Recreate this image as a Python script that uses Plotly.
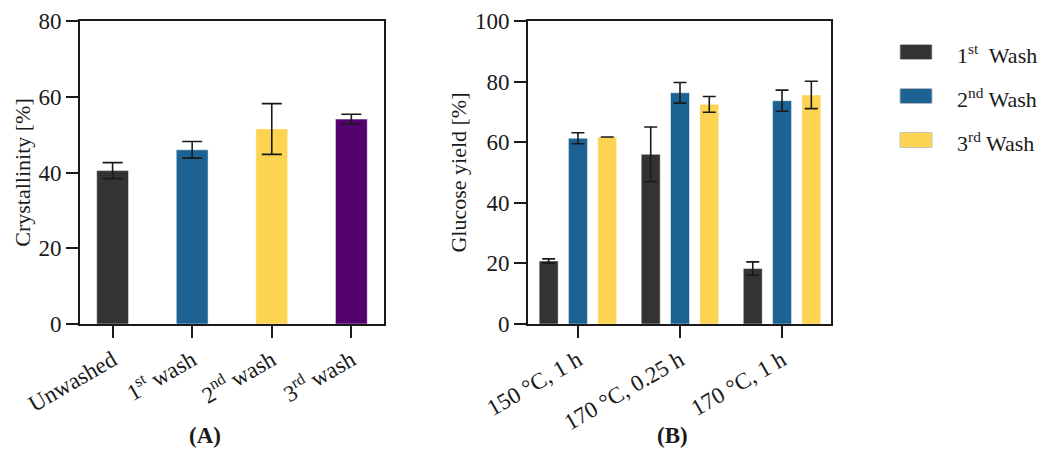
import plotly.graph_objects as go

# ---- Panel A data ----
a_categories = ["Unwashed", "1<sup>st</sup> wash", "2<sup>nd</sup> wash", "3<sup>rd</sup> wash"]
a_values = [40.5, 46.0, 51.5, 54.1]
a_errors = [2.1, 2.2, 6.7, 1.3]
a_colors = ["#333333", "#1c6393", "#fdd352", "#55006f"]

# ---- Panel B data ----
b_categories = ["150 °C, 1 h", "170 °C, 0.25 h", "170 °C, 1 h"]
b_series = ["1<sup>st</sup>  Wash", "2<sup>nd</sup> Wash", "3<sup>rd</sup> Wash"]
b_values = [
    [20.8, 56.0, 18.3],
    [61.3, 76.3, 73.7],
    [61.7, 72.5, 75.6],
]
b_errors = [
    [0.7, 9.0, 2.2],
    [1.8, 3.4, 3.5],
    [None, 2.6, 4.5],
]
b_colors = ["#333333", "#1c6393", "#fdd352"]

FONT = "Liberation Serif"
INK = "#1a1a1a"

fig = go.Figure()

fig.add_trace(go.Bar(
    x=a_categories, y=a_values, width=0.40,
    marker=dict(color=a_colors, line=dict(width=0.8, color="rgba(255,255,255,0.6)")),
    error_y=dict(type="data", array=a_errors, color=INK, thickness=1.6, width=10),
    xaxis="x", yaxis="y", showlegend=False,
))

for name, vals, errs, col in zip(b_series, b_values, b_errors, b_colors):
    fig.add_trace(go.Bar(
        x=b_categories, y=vals, name=name,
        marker=dict(color=col, line=dict(width=0.8, color="rgba(255,255,255,0.6)")),
        error_y=dict(type="data", array=errs, color=INK, thickness=1.6, width=6.5),
        xaxis="x2", yaxis="y2", showlegend=False,
    ))

axis_common = dict(
    showline=True, linecolor=INK, linewidth=1.6, mirror=True,
    showgrid=False, zeroline=False, ticks="outside", ticklen=12,
    tickwidth=1.6, tickcolor=INK, automargin=False,
)

fig.update_layout(
    width=1044, height=457,
    margin=dict(l=0, r=0, t=0, b=0),
    paper_bgcolor="white", plot_bgcolor="white",
    barmode="group", bargap=0.139, bargroupgap=0.352,
    font=dict(family=FONT, color=INK, size=22),
    xaxis=dict(domain=[0.0766, 0.3678], range=[-0.41, 3.41], tickangle=-30,
               tickfont=dict(size=23, family=FONT), anchor="y", **axis_common),
    yaxis=dict(domain=[0.291, 0.954], range=[0, 80], dtick=20, anchor="x",
               tickfont=dict(size=23, family=FONT),
               title=dict(text="Crystallinity [%]", font=dict(size=22, family=FONT), standoff=2),
               **axis_common),
    xaxis2=dict(domain=[0.5057, 0.796], range=[-0.49, 2.48], tickangle=-30,
                tickfont=dict(size=23, family=FONT), anchor="y2", **axis_common),
    yaxis2=dict(domain=[0.291, 0.954], range=[0, 100], dtick=20, anchor="x2",
                tickfont=dict(size=23, family=FONT),
                title=dict(text="Glucose yield [%]", font=dict(size=22, family=FONT), standoff=2),
                **axis_common),
)

# Panel labels
fig.add_annotation(text="<b>(A)</b>", x=205 / 1044, y=1 - 435 / 457, xref="paper", yref="paper",
                   showarrow=False, font=dict(size=23, family=FONT), xanchor="center", yanchor="middle")
fig.add_annotation(text="<b>(B)</b>", x=672 / 1044, y=1 - 435 / 457, xref="paper", yref="paper",
                   showarrow=False, font=dict(size=23, family=FONT), xanchor="center", yanchor="middle")

# Legend (swatches + labels)
leg_y = [52, 96, 140]
for name, col, yc in zip(b_series, b_colors, leg_y):
    fig.add_shape(type="rect", xref="paper", yref="paper",
                  x0=900 / 1044, x1=932 / 1044, y0=1 - (yc + 7.5) / 457, y1=1 - (yc - 7.5) / 457,
                  fillcolor=col, line=dict(width=0.8, color="#bbbbbb"))
    fig.add_annotation(text=name, x=955 / 1044, y=1 - (yc + 2) / 457, xref="paper", yref="paper",
                       showarrow=False, xanchor="left", yanchor="middle",
                       font=dict(size=22, family=FONT))

fig.write_html("out.html")
